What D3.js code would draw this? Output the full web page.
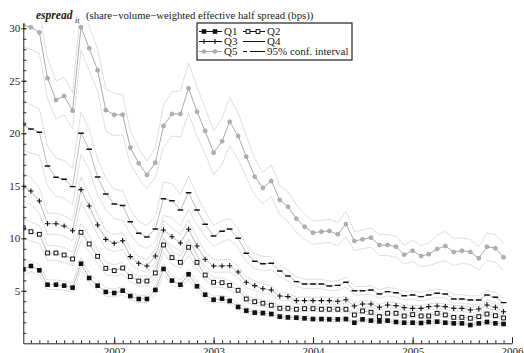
<!DOCTYPE html>
<html>
<head>
<meta charset="utf-8">
<script src="https://cdn.jsdelivr.net/npm/d3@7"></script>
<style>
  body { margin: 0; background: #fff; }
  svg { font-family: "Liberation Serif", "DejaVu Serif", serif; }
</style>
</head>
<body>
<svg id="chart" width="524" height="353"></svg>
<script>
// monthly observations, Feb 2001 .. Dec 2005
const months = d3.timeMonth.range(new Date(2001, 1, 1), new Date(2006, 0, 1));
const yearTicks = [2002, 2003, 2004, 2005, 2006];
const yTicks = [5, 10, 15, 20, 25, 30];
const quintiles = ['Q1', 'Q2', 'Q3', 'Q4', 'Q5'];

// espread by size quintile (bps)
const q1 = [7.05, 7.36, 6.95, 5.58, 5.58, 5.49, 5.30, 7.58, 6.22, 5.49,
  4.89, 4.79, 5.01, 4.50, 4.22, 4.22, 5.08, 7.08, 5.97, 5.58,
  6.57, 5.43, 4.63, 4.15, 4.25, 4.03, 3.46, 3.11, 2.92, 2.88,
  2.79, 2.54, 2.47, 2.44, 2.38, 2.31, 2.31, 2.28, 2.28, 2.31,
  1.96, 2.28, 2.16, 2.09, 2.16, 2.03, 1.96, 1.96, 1.93, 2.03,
  2.06, 1.96, 1.90, 1.90, 1.74, 1.90, 2.03, 1.90, 1.84];
const q2 = [11.0, 10.63, 10.38, 8.6, 8.6, 8.41, 8.03, 10.57, 9.46, 8.28,
  7.14, 6.92, 7.17, 6.35, 5.93, 5.93, 6.70, 9.36, 8.16, 7.71,
  9.14, 7.71, 6.5, 5.81, 5.77, 5.52, 5.05, 4.22, 3.96, 3.82,
  3.62, 3.33, 3.33, 3.24, 3.30, 3.30, 3.24, 3.24, 3.24, 3.24,
  2.70, 3.08, 2.95, 2.54, 2.86, 2.86, 2.60, 2.73, 2.60, 2.60,
  2.86, 2.70, 2.47, 2.47, 2.38, 2.54, 2.79, 2.63, 2.41];
const q3 = [14.9, 14.5, 13.55, 11.39, 11.39, 11.17, 10.72, 14.63, 13.08, 11.27,
  9.9, 9.52, 9.77, 8.25, 7.62, 7.36, 8.31, 10.79, 10.15, 9.55,
  10.86, 9.27, 8.0, 7.36, 7.36, 7.39, 6.79, 5.81, 5.49, 5.2,
  5.08, 4.50, 4.44, 4.06, 4.06, 4.06, 4.06, 4.06, 4.0, 4.15,
  3.55, 3.74, 3.74, 3.43, 3.65, 3.59, 3.40, 3.33, 3.33, 3.49,
  3.55, 3.49, 3.33, 3.33, 3.17, 3.27, 3.65, 3.43, 3.01];
const q4 = [20.8, 20.41, 20.1, 16.89, 15.81, 15.62, 14.92, 20.0, 18.48, 15.84,
  14.22, 13.27, 13.12, 11.58, 10.48, 10.12, 10.89, 13.77, 13.58, 12.70,
  14.34, 12.70, 11.33, 10.22, 10.67, 10.89, 10.0, 8.57, 7.81, 7.58,
  7.62, 6.89, 6.41, 5.87, 5.65, 5.65, 5.65, 5.46, 5.52, 5.81,
  5.01, 5.01, 5.08, 4.70, 4.92, 4.82, 4.53, 4.6, 4.44, 4.6,
  4.76, 4.70, 4.22, 4.22, 4.12, 4.12, 4.6, 4.38, 3.87];
const q5 = [30.3, 30.1, 29.6, 25.24, 23.17, 23.55, 22.15, 30.1, 28.1, 26.0,
  22.2, 21.77, 21.77, 18.63, 17.14, 16.03, 17.2, 20.7, 21.84, 21.84,
  24.29, 22.06, 20.22, 18.15, 19.24, 21.1, 19.74, 17.77, 15.87, 14.79,
  15.46, 13.65, 13.01, 11.87, 11.1, 10.53, 10.63, 10.7, 10.38, 11.36,
  9.74, 9.9, 10.06, 9.36, 9.36, 9.2, 8.44, 8.82, 8.31, 8.48,
  8.98, 9.27, 8.7, 8.82, 8.7, 8.1, 9.2, 9.05, 8.19];

// half width of the 95% confidence interval
const q1ci = [0.55, 0.55, 0.5, 0.45, 0.45, 0.44, 0.42, 0.55, 0.47, 0.44,
  0.4, 0.38, 0.4, 0.36, 0.34, 0.34, 0.4, 0.52, 0.45, 0.42,
  0.5, 0.42, 0.36, 0.33, 0.33, 0.32, 0.28, 0.26, 0.24, 0.23,
  0.22, 0.21, 0.2, 0.2, 0.2, 0.19, 0.19, 0.19, 0.19, 0.19,
  0.17, 0.19, 0.18, 0.18, 0.18, 0.17, 0.17, 0.17, 0.17, 0.17,
  0.17, 0.17, 0.16, 0.16, 0.15, 0.16, 0.17, 0.16, 0.16];
const q2ci = [0.9, 0.9, 0.85, 0.7, 0.7, 0.7, 0.65, 0.85, 0.75, 0.65,
  0.6, 0.55, 0.55, 0.5, 0.47, 0.47, 0.52, 0.7, 0.62, 0.6,
  0.7, 0.6, 0.5, 0.45, 0.45, 0.43, 0.4, 0.35, 0.32, 0.3,
  0.3, 0.28, 0.27, 0.26, 0.26, 0.26, 0.26, 0.26, 0.26, 0.26,
  0.23, 0.25, 0.24, 0.22, 0.24, 0.24, 0.22, 0.23, 0.22, 0.22,
  0.24, 0.23, 0.21, 0.21, 0.2, 0.21, 0.23, 0.22, 0.2];
const q3ci = [1.3, 1.3, 1.2, 1.0, 1.0, 1.0, 0.95, 1.2, 1.1, 0.95,
  0.85, 0.8, 0.8, 0.7, 0.65, 0.6, 0.65, 0.9, 0.85, 0.8,
  0.9, 0.8, 0.7, 0.6, 0.6, 0.6, 0.55, 0.5, 0.45, 0.45,
  0.4, 0.38, 0.35, 0.33, 0.33, 0.33, 0.33, 0.33, 0.32, 0.33,
  0.3, 0.3, 0.3, 0.28, 0.3, 0.28, 0.28, 0.27, 0.27, 0.28,
  0.28, 0.28, 0.27, 0.27, 0.26, 0.27, 0.3, 0.28, 0.26];
const q4ci = [2.4, 2.3, 2.2, 1.9, 1.8, 1.8, 1.7, 2.0, 1.9, 1.7,
  1.5, 1.4, 1.4, 1.2, 1.1, 1.1, 1.2, 1.6, 1.6, 1.5,
  1.6, 1.4, 1.2, 1.0, 1.0, 1.0, 0.9, 0.8, 0.7, 0.7,
  0.6, 0.55, 0.5, 0.45, 0.45, 0.45, 0.45, 0.45, 0.45, 0.45,
  0.4, 0.4, 0.4, 0.4, 0.4, 0.4, 0.4, 0.4, 0.4, 0.4,
  0.4, 0.4, 0.4, 0.4, 0.4, 0.4, 0.45, 0.45, 0.4];
const q5ci = [2.1, 2.1, 2.0, 1.9, 1.8, 1.8, 1.7, 2.2, 2.1, 2.0,
  2.0, 2.0, 1.9, 1.6, 1.4, 1.3, 1.4, 2.0, 2.1, 2.2,
  2.4, 2.3, 2.2, 2.1, 2.2, 2.3, 2.2, 2.0, 1.7, 1.5,
  1.5, 1.4, 1.4, 1.3, 1.2, 1.1, 1.1, 1.1, 1.1, 1.2,
  0.9, 0.9, 0.9, 1.0, 1.0, 1.0, 0.9, 1.0, 1.0, 1.1,
  1.3, 1.4, 1.3, 1.2, 1.2, 1.1, 1.3, 1.3, 1.3];

const means = [q1, q2, q3, q4, q5];
const cis = [q1ci, q2ci, q3ci, q4ci, q5ci];
const markerType = ['fsquare', 'osquare', 'plus', 'dash', 'circle'];

const plotLeft = 23.3, plotRight = 512, plotTop = 23, plotBottom = 343.3;

const svg = d3.select('#chart');

const x = d3.scaleTime()
  .domain([months[0], new Date(2006, 0, 1)])
  .range([plotLeft, plotRight]);
const y = d3.scaleLinear().domain([0, 30.5]).range([plotBottom, plotTop]);

svg.append('defs').append('clipPath').attr('id', 'plot')
  .append('rect').attr('x', plotLeft).attr('y', plotTop)
  .attr('width', plotRight - plotLeft + 4).attr('height', plotBottom - plotTop);

const series = quintiles.map((name, k) => ({
  name: name,
  marker: markerType[k],
  points: months.map((m, i) => ({ date: m, v: means[k][i], lo: means[k][i] - cis[k][i], hi: means[k][i] + cis[k][i] }))
}));

const plot = svg.append('g').attr('clip-path', 'url(#plot)');

const lineOf = (key) => d3.line().x((d) => x(d.date)).y((d) => y(d[key]));

// confidence bands
for (const s of series) {
  ['lo', 'hi'].forEach((key) => {
    plot.append('path')
      .datum(s.points)
      .attr('d', lineOf(key))
      .attr('fill', 'none')
      .attr('stroke', '#c4c4c4')
      .attr('stroke-width', 0.9)
      .attr('stroke-dasharray', '1.2,0.8');
  });
}

// mean lines
for (const s of series) {
  plot.append('path')
    .datum(s.points)
    .attr('d', lineOf('v'))
    .attr('fill', 'none')
    .attr('stroke', s.marker === 'circle' ? '#aaa' : '#bcbcbc')
    .attr('stroke-width', 1);
}

function drawMarker(g, type, cx, cy) {
  if (type === 'fsquare') {
    g.append('rect').attr('x', cx - 2.3).attr('y', cy - 2.3).attr('width', 4.6).attr('height', 4.6)
      .attr('fill', '#111');
  } else if (type === 'osquare') {
    g.append('rect').attr('x', cx - 1.9).attr('y', cy - 1.9).attr('width', 3.8).attr('height', 3.8)
      .attr('fill', '#fff').attr('stroke', '#111').attr('stroke-width', 1);
  } else if (type === 'plus') {
    g.append('path').attr('d', `M${cx - 2.6},${cy}H${cx + 2.6}M${cx},${cy - 2.6}V${cy + 2.6}`)
      .attr('stroke', '#111').attr('stroke-width', 1.1);
  } else if (type === 'dash') {
    g.append('path').attr('d', `M${cx - 2.8},${cy}H${cx + 2.8}`)
      .attr('stroke', '#111').attr('stroke-width', 1.4);
  } else {
    g.append('circle').attr('cx', cx).attr('cy', cy).attr('r', 2)
      .attr('fill', '#b0b0b0').attr('stroke', '#999').attr('stroke-width', 0.6);
  }
}

for (const s of series) {
  const g = plot.append('g');
  s.points.forEach((d) => drawMarker(g, s.marker, x(d.date), y(d.v)));
}

// axes
const yearDates = yearTicks.map((yr) => new Date(yr, 0, 1));

svg.append('g')
  .attr('transform', `translate(0,${plotBottom})`)
  .call(d3.axisBottom(x).tickValues(months.slice(1)).tickSizeInner(-3).tickSizeOuter(0).tickFormat(''))
  .call((g) => g.select('.domain').remove())
  .selectAll('line').attr('stroke', '#222');

svg.append('g')
  .attr('transform', `translate(0,${plotBottom})`)
  .call(d3.axisBottom(x).tickValues(yearDates).tickSizeInner(-6).tickSizeOuter(0)
    .tickPadding(4).tickFormat(d3.timeFormat('%Y')))
  .call((g) => g.select('.domain').attr('stroke', '#222'))
  .call((g) => g.selectAll('line').attr('stroke', '#222'))
  .call((g) => g.selectAll('text').attr('font-size', 11).attr('fill', '#222')
    .attr('font-family', '"Liberation Serif", serif'));

svg.append('g')
  .attr('transform', `translate(${plotLeft},0)`)
  .call(d3.axisLeft(y).tickValues(d3.range(1, 31)).tickSizeInner(-3).tickSizeOuter(0).tickFormat(''))
  .call((g) => g.select('.domain').remove())
  .selectAll('line').attr('stroke', '#222');

svg.append('g')
  .attr('transform', `translate(${plotLeft},0)`)
  .call(d3.axisLeft(y).tickValues(yTicks).tickSizeInner(2).tickSizeOuter(0).tickPadding(1))
  .call((g) => g.select('.domain').attr('stroke', '#222'))
  .call((g) => g.selectAll('line').attr('x2', 3).attr('x1', -2).attr('stroke', '#222'))
  .call((g) => g.selectAll('text').attr('font-size', 11).attr('fill', '#222')
    .attr('font-family', '"Liberation Serif", serif'));

// title
const title = svg.append('text').attr('y', 19).attr('fill', '#222');
title.append('tspan').attr('x', 36).attr('font-size', 11.5).attr('font-weight', 'bold')
  .attr('font-style', 'italic').text('espread');
title.append('tspan').attr('x', 75).attr('dy', 4).attr('font-size', 8)
  .attr('font-style', 'italic').text('it');
title.append('tspan').attr('x', 86).attr('dy', -4).attr('font-size', 10.7)
  .text('(share\u2212volume\u2212weighted effective half spread (bps))');

// legend
const legend = svg.append('g');
legend.append('rect').attr('x', 197).attr('y', 23).attr('width', 155).attr('height', 37)
  .attr('fill', '#fff').attr('stroke', '#222').attr('stroke-width', 1.2);

const legendItems = quintiles.concat(['95% conf. interval']);
legendItems.forEach((label, k) => {
  const col = k % 2, row = Math.floor(k / 2);
  const x0 = col === 0 ? 199 : 243, x1 = col === 0 ? 222 : 265;
  const ly = 31.5 + row * 10;
  const grey = markerType[k] === 'circle';
  const ln = legend.append('line').attr('x1', x0).attr('x2', x1).attr('y1', ly).attr('y2', ly)
    .attr('stroke', grey ? '#aaa' : '#111').attr('stroke-width', 1);
  if (k === 5) ln.attr('stroke-dasharray', '4,3,40');
  if (markerType[k] && markerType[k] !== 'dash') {
    drawMarker(legend, markerType[k], x0 + 5, ly);
    drawMarker(legend, markerType[k], x1 - 7, ly);
  }
  legend.append('text').attr('x', x1 + 2).attr('y', ly + 3.8)
    .attr('font-size', 11).attr('fill', '#222').text(label);
});
</script>
</body>
</html>
